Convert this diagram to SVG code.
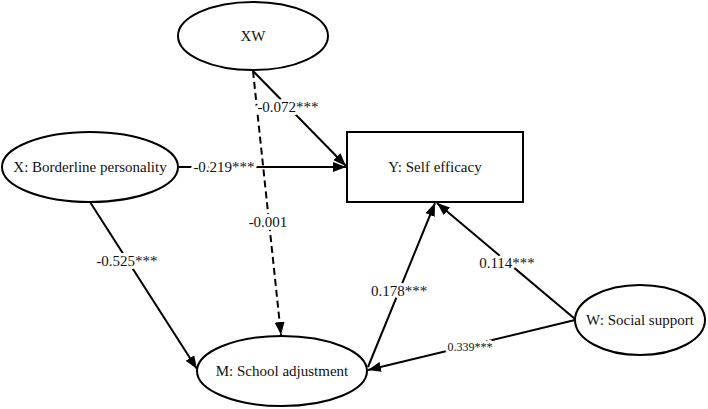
<svg xmlns="http://www.w3.org/2000/svg" width="708" height="409" viewBox="0 0 708 409">
<style>
.node{fill:#fff;stroke:#000;stroke-width:2}
.lbl{font-family:"Liberation Serif","Times New Roman",serif;font-size:15px;fill:#111;text-anchor:middle}
.edge{stroke:#000;stroke-width:2;fill:none}
.dash{stroke-dasharray:7,4}
.elbl{font-family:"Liberation Serif","Times New Roman",serif;font-size:15px;fill:#111;text-anchor:middle;stroke:#fff;stroke-width:6;paint-order:stroke;stroke-linejoin:round}
.small{font-size:12px}
</style>
<defs>
<marker id="arr" markerUnits="userSpaceOnUse" markerWidth="14" markerHeight="10" refX="13" refY="5" orient="auto">
<path d="M0,0 L13,5 L0,10 Z" fill="#000"/>
</marker>
</defs>
<rect width="708" height="409" fill="#fff"/>
<g id="connectors">
<line class="edge" x1="179" y1="167" x2="346" y2="167" marker-end="url(#arr)"/>
<line class="edge" x1="253" y1="71" x2="346" y2="166" marker-end="url(#arr)"/>
<line class="edge dash" x1="253" y1="71" x2="281" y2="335" marker-end="url(#arr)"/>
<line class="edge" x1="90" y1="202" x2="197" y2="369" marker-end="url(#arr)"/>
<line class="edge" x1="368" y1="367" x2="435" y2="203" marker-end="url(#arr)"/>
<line class="edge" x1="575" y1="319" x2="437" y2="203" marker-end="url(#arr)"/>
<line class="edge" x1="575" y1="320" x2="368" y2="370" marker-end="url(#arr)"/>
<text class="elbl" x="224" y="172">-0.219***</text>
<text class="elbl" x="288" y="112">-0.072***</text>
<text class="elbl" x="268" y="227">-0.001</text>
<text class="elbl" x="127" y="266">-0.525***</text>
<text class="elbl" x="399" y="296">0.178***</text>
<text class="elbl" x="507" y="268">0.114***</text>
<text class="elbl small" x="470" y="351">0.339***</text>
</g>
<g id="node-xw">
<ellipse class="node" cx="253" cy="36" rx="75" ry="34"/>
<text class="lbl" x="253" y="41">XW</text>
</g>
<g id="node-x">
<ellipse class="node" cx="90" cy="167" rx="88" ry="35"/>
<text class="lbl" x="90" y="172">X: Borderline personality</text>
</g>
<g id="node-y">
<rect class="node" x="347" y="132" width="176" height="70"/>
<text class="lbl" x="435" y="172">Y: Self efficacy</text>
</g>
<g id="node-m">
<ellipse class="node" cx="282" cy="371" rx="85" ry="35"/>
<text class="lbl" x="282" y="376">M: School adjustment</text>
</g>
<g id="node-w">
<ellipse class="node" cx="640" cy="320" rx="65" ry="35"/>
<text class="lbl" x="640" y="325">W: Social support</text>
</g>
</svg>
